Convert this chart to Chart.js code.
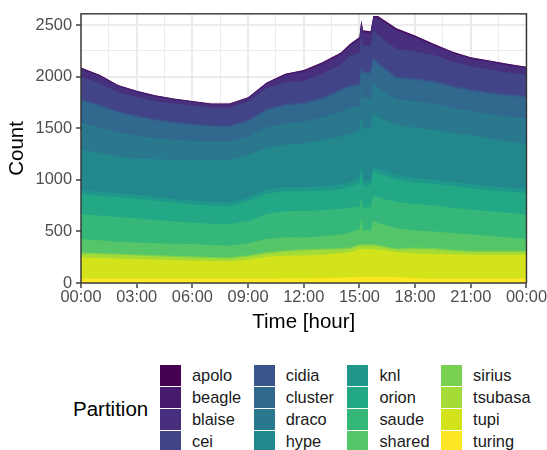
<!DOCTYPE html>
<html lang="en">
<head>
<meta charset="UTF-8" />
<title>Jobs per partition</title>
<style>
  body { margin: 0; background: #fff; overflow: hidden; }
  #wrap { position: relative; width: 547px; height: 450px; font-family: "Liberation Sans", Arial, sans-serif; }
  #chart { position: absolute; left: 0; top: 0; }
  .key { position: absolute; width: 21px; height: 21px; }
  .lab { position: absolute; font-size: 16.4px; line-height: 21px; color: #1a1a1a; white-space: nowrap; }
  #ltitle { position: absolute; left: 73px; top: 397px; font-size: 20.5px; line-height: 24px; color: #000; }
</style>
</head>
<body>
<div id="wrap">
  <canvas id="chart" width="547" height="335"></canvas>
  <div id="ltitle">Partition</div>
  <div id="legend"></div>
</div>

<script src="https://cdn.jsdelivr.net/npm/chart.js"></script>
<script>
// hour of day for each sample
const hours = [0, 1, 2, 3, 4, 5, 6, 7, 8, 9, 10, 11, 12, 13, 14, 14.5, 15, 15.1, 15.2, 15.6, 15.75, 16, 17, 18, 19, 20, 21, 22, 23, 24];

// job counts per partition
const apolo   = [4, 4, 3, 3, 3, 3, 2, 2, 2, 2, 3, 4, 5, 5, 5, 5, 6, 6, 6, 6, 6, 6, 6, 5, 5, 4, 4, 4, 4, 4];
const beagle  = [12, 11, 10, 10, 9, 8, 8, 7, 7, 7, 9, 12, 14, 14, 15, 15, 16, 16, 16, 16, 16, 17, 18, 16, 14, 13, 13, 12, 12, 11];
const blaise  = [74, 65, 57, 51, 43, 39, 35, 31, 31, 31, 43, 69, 86, 91, 95, 100, 128, 118, 128, 118, 118, 167, 176, 134, 91, 78, 73, 72, 69, 60];
const cei     = [216, 210, 185, 175, 175, 175, 175, 170, 172, 180, 200, 210, 208, 230, 240, 280, 305, 304, 250, 250, 260, 260, 270, 255, 250, 235, 221, 220, 210, 207];
const cidia   = [16, 15, 15, 14, 14, 13, 13, 13, 13, 14, 15, 16, 16, 17, 18, 18, 18, 19, 19, 19, 19, 19, 18, 18, 17, 17, 16, 16, 16, 16];
const cluster = [215, 204, 191, 183, 169, 161, 153, 146, 145, 147, 164, 171, 173, 179, 199, 204, 194, 206, 241, 239, 234, 230, 201, 210, 206, 199, 194, 195, 200, 202];
const draco   = [263, 249, 234, 223, 207, 196, 186, 178, 177, 179, 201, 208, 211, 219, 243, 250, 238, 252, 295, 292, 287, 281, 246, 257, 252, 244, 237, 239, 244, 246];
const hype    = [394, 378, 356, 351, 364, 380, 396, 406, 414, 414, 405, 409, 421, 446, 465, 465, 469, 488, 509, 504, 512, 503, 485, 486, 482, 473, 471, 460, 445, 440];
const knl     = [38, 38, 37, 36, 36, 35, 35, 35, 34, 36, 40, 42, 42, 44, 45, 46, 46, 48, 46, 46, 48, 47, 45, 44, 43, 42, 41, 40, 40, 39];
const orion   = [192, 192, 192, 190, 188, 182, 177, 177, 176, 190, 195, 194, 192, 190, 190, 208, 225, 250, 211, 215, 234, 230, 220, 210, 205, 210, 207, 205, 205, 208];
const saude   = [240, 240, 240, 236, 226, 217, 207, 207, 208, 215, 240, 252, 256, 255, 250, 240, 220, 220, 221, 225, 252, 250, 255, 255, 255, 245, 240, 240, 240, 239];
const shared  = [128, 122, 115, 114, 114, 116, 119, 115, 112, 117, 130, 125, 111, 115, 130, 144, 145, 240, 133, 135, 224, 210, 195, 165, 160, 160, 160, 142, 127, 113];
const sirius  = [14, 13, 13, 12, 12, 12, 11, 11, 11, 12, 13, 14, 15, 15, 14, 14, 14, 15, 14, 14, 15, 14, 13, 15, 15, 14, 13, 13, 13, 13];
const tsubasa = [34, 33, 34, 34, 33, 31, 30, 28, 27, 31, 32, 39, 49, 45, 36, 34, 31, 35, 31, 31, 35, 31, 22, 45, 43, 33, 25, 25, 25, 25];
const tupi    = [208, 204, 196, 190, 185, 180, 176, 172, 169, 183, 213, 221, 221, 227, 238, 242, 272, 272, 272, 272, 272, 267, 242, 240, 240, 236, 233, 233, 233, 233];
const turing  = [42, 42, 42, 42, 42, 42, 42, 42, 42, 42, 42, 44, 45, 48, 52, 55, 58, 58, 58, 58, 58, 58, 58, 45, 42, 42, 42, 42, 42, 42];

const partitions = ['apolo', 'beagle', 'blaise', 'cei', 'cidia', 'cluster', 'draco', 'hype',
                    'knl', 'orion', 'saude', 'shared', 'sirius', 'tsubasa', 'tupi', 'turing'];
const series = [apolo, beagle, blaise, cei, cidia, cluster, draco, hype,
                knl, orion, saude, shared, sirius, tsubasa, tupi, turing];
// viridis, 16 levels
const colours = ['#440154', '#481A6C', '#472F7D', '#414487', '#39568C', '#31688E', '#2A788E', '#23888E',
                 '#1F988B', '#22A884', '#35B779', '#54C568', '#7AD151', '#A5DB36', '#D2E21B', '#FDE725'];

// first level sits on top of the stack, so build datasets bottom-up
const datasets = partitions.map((name, i) => ({
  label: name,
  data: series[i].map((v, j) => ({ x: hours[j], y: v })),
  backgroundColor: colours[i],
  borderWidth: 0,
  pointRadius: 0,
  tension: 0,
  fill: 'origin'
})).reverse();

const panelBorder = {
  id: 'panelBorder',
  afterDraw(chart) {
    const { ctx, chartArea: a } = chart;
    ctx.save();
    ctx.strokeStyle = '#333333';
    ctx.lineWidth = 1.4;
    ctx.strokeRect(a.left, a.top, a.right - a.left, a.bottom - a.top);
    ctx.restore();
  }
};

const tickFont = { family: '"Liberation Sans", Arial, sans-serif', size: 16.4 };
const titleFont = { family: '"Liberation Sans", Arial, sans-serif', size: 20.5 };

new Chart(document.getElementById('chart'), {
  type: 'line',
  data: { datasets },
  plugins: [panelBorder],
  options: {
    responsive: false,
    animation: false,
    layout: { padding: { top: 12, right: 20, left: 0, bottom: 0 } },
    plugins: { legend: { display: false }, tooltip: { enabled: false } },
    scales: {
      x: {
        type: 'linear',
        min: 0, max: 24,
        border: { display: false },
        grid: {
          color: '#EBEBEB',
          lineWidth: c => (c.tick && c.tick.value % 3 === 0 ? 2 : 1),
          tickColor: c => (c.tick && c.tick.value % 3 === 0 ? '#333333' : 'rgba(0,0,0,0)'),
          tickWidth: 1.4,
          tickLength: 5
        },
        ticks: {
          stepSize: 1.5,
          autoSkip: false,
          maxRotation: 0,
          padding: 0,
          color: '#4D4D4D',
          font: tickFont,
          callback: v => (v % 3 === 0 ? String(v % 24).padStart(2, '0') + ':00' : '')
        },
        title: { display: true, text: 'Time [hour]', color: '#000', font: titleFont, padding: 0 },
        afterFit: s => { s.height = 335 - 283; }
      },
      y: {
        stacked: true,
        min: 0, max: 2610,
        border: { display: false },
        grid: {
          color: '#EBEBEB',
          lineWidth: c => (c.tick && c.tick.value % 500 === 0 ? 2 : 1),
          tickColor: c => (c.tick && c.tick.value % 500 === 0 ? '#333333' : 'rgba(0,0,0,0)'),
          tickWidth: 1.4,
          tickLength: 5
        },
        ticks: {
          stepSize: 250,
          includeBounds: false,
          padding: 4,
          color: '#4D4D4D',
          font: tickFont,
          callback: v => (v % 500 === 0 ? v : '')
        },
        title: { display: true, text: 'Count', color: '#000', font: titleFont, padding: { top: 5, bottom: 0 } },
        afterFit: s => { s.width = 81; }
      }
    }
  }
});

// legend: four columns, filled column by column
const legend = document.getElementById('legend');
partitions.forEach((name, i) => {
  const col = Math.floor(i / 4), row = i % 4;
  const key = document.createElement('div');
  key.className = 'key';
  key.style.left = (160 + col * 93.7) + 'px';
  key.style.top = (365 + row * 22) + 'px';
  key.style.background = colours[i];
  legend.appendChild(key);
  const lab = document.createElement('div');
  lab.className = 'lab';
  lab.style.left = (192 + col * 93.7) + 'px';
  lab.style.top = (365 + row * 22) + 'px';
  lab.textContent = name;
  legend.appendChild(lab);
});
</script>
</body>
</html>
